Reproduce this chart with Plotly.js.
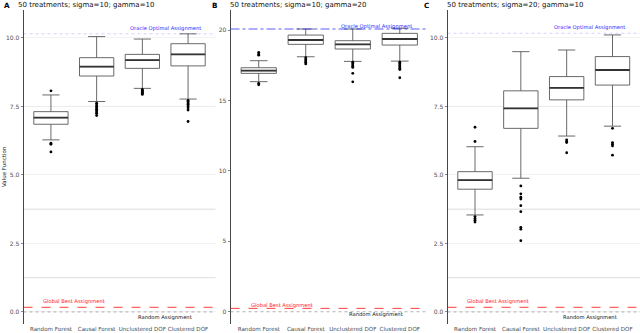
<!DOCTYPE html>
<html>
<head>
<meta charset="utf-8">
<script src="https://cdn.plot.ly/plotly-3.0.1.min.js"></script>
<style>html,body{margin:0;padding:0;background:#fff}#chart{width:640px;height:333px}</style>
</head>
<body>
<div id="chart"></div>
<script>
// ---------- data ----------
const categories = ['Random Forest', 'Causal Forest', 'Unclustered DOF', 'Clustered DOF'];
const panelLetters = ['A', 'B', 'C'];
const panelTitles = ['50 treatments; sigma=10; gamma=10', '50 treatments; sigma=10; gamma=20', '50 treatments; sigma=20; gamma=10'];

// Panel A
const q1A = [6.85, 8.61, 8.89, 8.98];
const medA = [7.09, 8.95, 9.19, 9.40];
const q3A = [7.31, 9.28, 9.40, 9.79];
const lowA = [6.28, 7.68, 8.16, 7.77];
const highA = [7.92, 10.05, 9.96, 10.15];
const outA = [[8.07, 6.16, 6.12, 5.84],
              [7.62, 7.55, 7.50, 7.45, 7.40, 7.35, 7.30, 7.25, 7.17],
              [8.12, 8.08, 8.05, 8.01, 7.98, 7.94],
              [7.72, 7.68, 7.63, 7.58, 7.52, 7.45, 7.37, 6.95]];
// Panel B
const q1B = [16.93, 18.99, 18.66, 18.94];
const medB = [17.12, 19.30, 18.99, 19.37];
const q3B = [17.33, 19.65, 19.25, 19.77];
const lowB = [16.34, 18.11, 17.78, 17.80];
const highB = [17.83, 20.08, 20.08, 20.13];
const outB = [[18.42, 18.30, 18.22, 16.22, 16.12],
              [18.04, 17.92, 17.82, 17.72, 17.60],
              [17.72, 17.62, 17.52, 17.42, 17.35, 16.93, 16.33],
              [17.72, 17.62, 17.52, 17.42, 17.30, 17.20, 16.62]];
// Panel C
const q1C = [4.48, 6.70, 7.74, 8.28];
const medC = [4.81, 7.43, 8.18, 8.83];
const q3C = [5.12, 8.07, 8.59, 9.32];
const lowC = [3.54, 4.88, 6.42, 6.78];
const highC = [6.03, 9.50, 9.56, 10.11];
const outC = [[6.22, 6.74, 3.48, 3.41, 3.35, 3.28],
              [4.60, 4.31, 4.19, 4.12, 3.88, 3.66, 3.09, 3.02, 2.60],
              [6.28, 6.22, 6.18, 5.81],
              [6.70, 6.18, 6.12, 6.06, 5.72]];

// reference lines
const oracleValues = [10.15, 20.08, 10.17];
const globalBestValues = [0.17, 0.24, 0.17];
const randomValues = [0, 0, 0];
const refLabels = ['Oracle Optimal Assignment', 'Global Best Assignment', 'Random Assignment'];

// axis ticks
const yTickValsA = [0, 2.5, 5, 7.5, 10];
const yTickTextA = ['0.0', '2.5', '5.0', '7.5', '10.0'];
const yTickValsB = [0, 5, 10, 15, 20];
const yTickTextB = ['0', '5', '10', '15', '20'];
const yRanges = [[-0.44, 11.02], [-0.87, 21.43], [-0.44, 11.02]];
const extraGridAC = [7.5, 3.75, 1.25];

// ---------- layout geometry ----------
const W = 640, H = 333;
const xDomPx = [[23.5, 215.5], [230.5, 428], [447.5, 640]];
const yTopPx = 10, yBotPx = 324;
const yDom = [1 - yBotPx / H, 1 - yTopPx / H];

const panels = [
  {q1: q1A, med: medA, q3: q3A, low: lowA, high: highA, out: outA, tv: yTickValsA, tt: yTickTextA, grid: true},
  {q1: q1B, med: medB, q3: q3B, low: lowB, high: highB, out: outB, tv: yTickValsB, tt: yTickTextB, grid: false},
  {q1: q1C, med: medC, q3: q3C, low: lowC, high: highC, out: outC, tv: yTickValsA, tt: yTickTextA, grid: true}
];

const traces = [];
const shapes = [];
const annotations = [];
const layout = {
  width: W, height: H,
  margin: {l: 0, r: 0, t: 0, b: 0},
  paper_bgcolor: '#ffffff', plot_bgcolor: 'rgba(0,0,0,0)',
  showlegend: false,
  font: {family: 'DejaVu Sans, sans-serif', color: '#222'}
};

const boxLine = '#595959';
panels.forEach((p, i) => {
  const sfx = i === 0 ? '' : String(i + 1);
  const xa = 'x' + sfx, ya = 'y' + sfx;
  const dom = [xDomPx[i][0] / W, xDomPx[i][1] / W];
  const boxPx = (xDomPx[i][1] - xDomPx[i][0]) / 4.2 * 0.75;

  layout['xaxis' + sfx] = {
    domain: dom, anchor: ya, type: 'category', categoryorder: 'array', categoryarray: categories,
    range: [-0.6, 3.6], showgrid: false, showline: false, zeroline: false,
    ticks: '', tickangle: 0,
    tickfont: {size: 5.6, color: '#4d4d4d', family: 'DejaVu Sans, sans-serif'}, fixedrange: true
  };
  layout['yaxis' + sfx] = {
    domain: yDom, anchor: xa, range: yRanges[i], tickmode: 'array', tickvals: p.tv, ticktext: p.tt,
    showline: true, linecolor: '#333', linewidth: 0.9, zeroline: false,
    ticks: 'outside', ticklen: 2, tickwidth: 0.6, tickcolor: '#333',
    showgrid: p.grid, gridcolor: '#f0f0f0', gridwidth: 0.8,
    tickfont: {size: 6, color: '#4d4d4d', family: 'DejaVu Sans, sans-serif'}, fixedrange: true
  };

  if (p.grid) {
    extraGridAC.forEach(v => shapes.push({type: 'line', xref: xa + ' domain', yref: ya, x0: 0, x1: 1, y0: v, y1: v,
      line: {color: '#d4d4d4', width: 0.8}, layer: 'below'}));
  }

  traces.push({
    type: 'box', xaxis: xa, yaxis: ya, x: categories,
    q1: p.q1, median: p.med, q3: p.q3, lowerfence: p.low, upperfence: p.high,
    boxpoints: false, width: 0.75, fillcolor: '#ffffff',
    line: {color: boxLine, width: 0.9}, hoverinfo: 'skip'
  });
  traces.push({
    type: 'scatter', mode: 'markers', xaxis: xa, yaxis: ya, x: categories, y: p.med,
    marker: {symbol: 'line-ew', size: boxPx / 1.4, color: '#333', line: {color: '#333', width: 1.8}}, hoverinfo: 'skip'
  });
  const ox = [], oy = [];
  p.out.forEach((arr, k) => arr.forEach(v => { ox.push(categories[k]); oy.push(v); }));
  traces.push({
    type: 'scatter', mode: 'markers', xaxis: xa, yaxis: ya, x: ox, y: oy,
    marker: {size: 2.8, color: '#000'}, hoverinfo: 'skip'
  });

  // reference lines
  const oracleStyle = i === 1 ? {color: 'rgba(40,40,255,0.85)', width: 0.9, dash: 'dashdot'}
                              : {color: 'rgba(90,90,255,0.3)', width: 0.9, dash: 'dot'};
  shapes.push({type: 'line', xref: xa + ' domain', yref: ya, x0: 0, x1: 1, y0: oracleValues[i], y1: oracleValues[i], line: oracleStyle});
  shapes.push({type: 'line', xref: xa + ' domain', yref: ya, x0: 0, x1: 1, y0: globalBestValues[i], y1: globalBestValues[i],
    line: {color: 'rgba(255,0,0,0.85)', width: 0.9, dash: 'dash'}});
  shapes.push({type: 'line', xref: xa + ' domain', yref: ya, x0: 0, x1: 1, y0: randomValues[i], y1: randomValues[i],
    line: {color: 'rgba(130,130,130,0.7)', width: 0.9, dash: 'dot'}});

  annotations.push({xref: xa, yref: ya, x: 2.5, y: oracleValues[i] + 0.2, text: refLabels[0], showarrow: false,
    xanchor: 'center', yanchor: 'middle', font: {size: 5.2, color: '#2a2aff'}});
  annotations.push({xref: xa, yref: ya, x: 0.5, y: globalBestValues[i] + 0.2, text: refLabels[1], showarrow: false,
    xanchor: 'center', yanchor: 'middle', font: {size: 5.2, color: '#ff2020'}});
  annotations.push({xref: xa, yref: ya, x: 2.5, y: randomValues[i] - 0.2, text: refLabels[2], showarrow: false,
    xanchor: 'center', yanchor: 'middle', font: {size: 5.2, color: '#111'}});

  // panel letter + title
  const letterX = [3, 211, 423][i];
  const titleX = [17, 229, 446][i];
  annotations.push({xref: 'paper', yref: 'paper', x: letterX / W, y: 1, xanchor: 'left', yanchor: 'top',
    text: '<b>' + panelLetters[i] + '</b>', showarrow: false, font: {size: 7.2, color: '#000'}, borderpad: 0});
  annotations.push({xref: 'paper', yref: 'paper', x: titleX / W, y: 1, xanchor: 'left', yanchor: 'top',
    text: panelTitles[i], showarrow: false, font: {size: 7, color: '#111'}, borderpad: 0});
});

annotations.push({xref: 'paper', yref: 'paper', x: 4 / W, y: 1 - 167 / H, xanchor: 'center', yanchor: 'middle',
  text: 'Value Function', textangle: -90, showarrow: false, font: {size: 5.5, color: '#111'}});

layout.shapes = shapes;
layout.annotations = annotations;

Plotly.newPlot('chart', traces, layout, {staticPlot: true, displayModeBar: false});
</script>
</body>
</html>
